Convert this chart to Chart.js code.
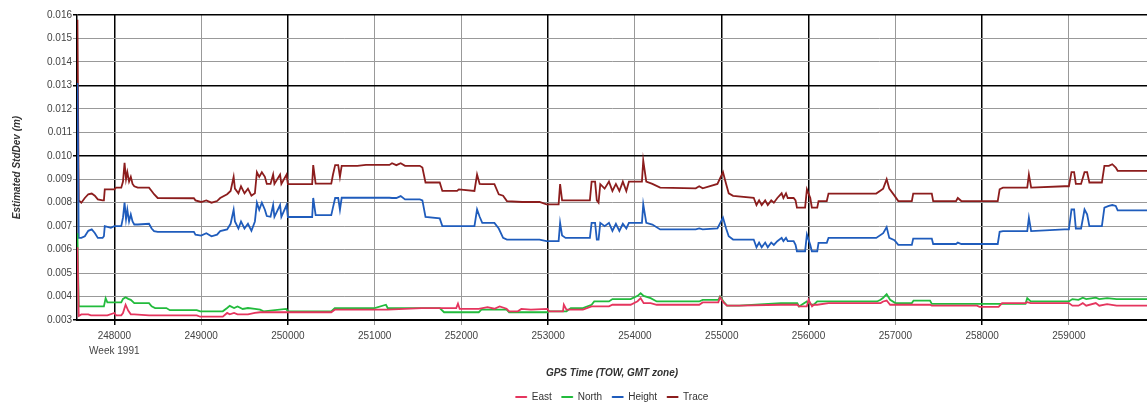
<!DOCTYPE html>
<html>
<head>
<meta charset="utf-8">
<script src="https://cdn.jsdelivr.net/npm/chart.js@4.4.0/dist/chart.umd.min.js"></script>
<style>
  html, body { margin: 0; padding: 0; background: #fff; }
  #wrap { width: 1147px; height: 406px; }
</style>
</head>
<body>
<div id="wrap"><canvas id="stdChart" width="1147" height="406"></canvas></div>
<script>
// tick labels
const xTicks = [248000, 249000, 250000, 251000, 252000, 253000, 254000, 255000, 256000, 257000, 258000, 259000];
const yTicks = [0.003, 0.004, 0.005, 0.006, 0.007, 0.008, 0.009, 0.010, 0.011, 0.012, 0.013, 0.014, 0.015, 0.016];

// GPS time of week (s) for Height / Trace
const tHi = [247575, 247590, 247620, 247660, 247700, 247740, 247775, 247810, 247865, 247880,
  247890, 247960, 248000, 248020, 248080, 248100, 248118, 248135, 248150, 248170,
  248190, 248210, 248230, 248270, 248400, 248430, 248458, 248500, 248917, 248935,
  249000, 249060, 249120, 249184, 249220, 249300, 249340, 249375, 249390, 249430,
  249460, 249500, 249540, 249580, 249620, 249643, 249670, 249700, 249735, 249757,
  249800, 249830, 249845, 249910, 249925, 249985, 250000, 250280, 250292, 250320,
  250500, 250520, 250545, 250580, 250600, 250620, 250800, 250900, 251170, 251200,
  251250, 251300, 251350, 251520, 251550, 251586, 251750, 251780, 251950, 251970,
  252150, 252180, 252210, 252240, 252380, 252430, 252480, 252524, 252700, 252900,
  252980, 253120, 253137, 253160, 253200, 253480, 253500, 253540, 253560, 253580,
  253600, 253650, 253700, 253740, 253780, 253820, 253860, 253900, 253930, 254080,
  254095, 254130, 254200, 254290, 254700, 254740, 254780, 254950, 255014, 255050,
  255080, 255130, 255368, 255400, 255430, 255460, 255500, 255530, 255570, 255600,
  255640, 255690, 255710, 255740, 255760, 255828, 255850, 255866, 255960, 255981,
  256020, 256038, 256100, 256115, 256210, 256230, 256780, 256860, 256900, 256930,
  256990, 257034, 257190, 257206, 257420, 257436, 257700, 257720, 257760, 258180,
  258202, 258240, 258520, 258539, 258565, 258950, 259000, 259030, 259060, 259080,
  259140, 259180, 259210, 259236, 259380, 259409, 259460, 259500, 259540, 259562,
  259900];

const trace = [0.0158, 0.0081, 0.0080, 0.0082, 0.00836, 0.00839, 0.0083, 0.00814, 0.0081, 0.0081,
  0.00857, 0.00857, 0.00857, 0.00864, 0.00864, 0.0089, 0.0097, 0.0090, 0.0093, 0.0089,
  0.0091, 0.0088, 0.0087, 0.00864, 0.00864, 0.0085, 0.00836, 0.0082, 0.00819, 0.0081,
  0.00803, 0.0081, 0.0080, 0.00807, 0.0082, 0.00836, 0.0085, 0.0091, 0.0086, 0.0084,
  0.0087, 0.0084, 0.0086, 0.0083, 0.0084, 0.0093, 0.0091, 0.0093, 0.0091, 0.0088,
  0.0088, 0.0092, 0.0088, 0.0092, 0.0088, 0.0092, 0.00879, 0.00879, 0.0096, 0.00881,
  0.00881, 0.0092, 0.0096, 0.0096, 0.0091, 0.00957, 0.00957, 0.00961, 0.00961, 0.00968,
  0.0096, 0.00968, 0.00957, 0.00957, 0.0095, 0.00886, 0.00886, 0.0085, 0.0085, 0.00857,
  0.0085, 0.0092, 0.0088, 0.00879, 0.00879, 0.00836, 0.0083, 0.00807, 0.00803, 0.00803,
  0.00793, 0.00793, 0.00879, 0.0081, 0.0081, 0.0081, 0.0089, 0.0089, 0.0081, 0.0080,
  0.00879, 0.0086, 0.0089, 0.0085, 0.0088, 0.0085, 0.0089, 0.0085, 0.0089, 0.0089,
  0.0098, 0.0089, 0.0088, 0.00864, 0.00861, 0.0087, 0.00861, 0.0088, 0.0093, 0.0088,
  0.0084, 0.00829, 0.00821, 0.0079, 0.0081, 0.0079, 0.0081, 0.0079, 0.0081, 0.0080,
  0.0082, 0.0084, 0.0082, 0.0084, 0.0082, 0.0082, 0.0081, 0.00779, 0.00779, 0.00857,
  0.0082, 0.00779, 0.00779, 0.00807, 0.00807, 0.00839, 0.00839, 0.0086, 0.0090, 0.0086,
  0.0083, 0.00807, 0.00807, 0.00839, 0.00839, 0.00807, 0.00807, 0.0082, 0.00807, 0.00807,
  0.00857, 0.00864, 0.00864, 0.0092, 0.00864, 0.0087, 0.0087, 0.0093, 0.0093, 0.0088,
  0.0088, 0.0093, 0.0093, 0.00886, 0.00886, 0.00957, 0.00957, 0.00964, 0.0095, 0.00936,
  0.00936];

const height = [0.0131, 0.0065, 0.0065, 0.00657, 0.0068, 0.00686, 0.00671, 0.0065, 0.0065, 0.00657,
  0.0070, 0.00693, 0.0070, 0.0070, 0.0070, 0.00736, 0.0080, 0.0073, 0.0077, 0.0072,
  0.0075, 0.0072, 0.00707, 0.00707, 0.0071, 0.0069, 0.00679, 0.00676, 0.00676, 0.00664,
  0.0066, 0.0067, 0.00657, 0.00664, 0.00679, 0.00686, 0.0071, 0.0077, 0.0072, 0.0069,
  0.0072, 0.0069, 0.0071, 0.0068, 0.0072, 0.0080, 0.0077, 0.0080, 0.0077, 0.00743,
  0.0074, 0.0079, 0.0074, 0.0079, 0.0074, 0.0079, 0.00739, 0.00739, 0.0082, 0.00747,
  0.00747, 0.0078, 0.0082, 0.0082, 0.0077, 0.00821, 0.00821, 0.00821, 0.00821, 0.0082,
  0.0082, 0.00828, 0.00814, 0.00814, 0.0081, 0.00739, 0.00733, 0.0070, 0.0070, 0.0070,
  0.0070, 0.00771, 0.0074, 0.00714, 0.00714, 0.0069, 0.0065, 0.00643, 0.00643, 0.00643,
  0.00636, 0.00636, 0.00714, 0.0066, 0.0065, 0.0065, 0.00714, 0.00714, 0.00643, 0.00643,
  0.00714, 0.0070, 0.00714, 0.0068, 0.0071, 0.0068, 0.0071, 0.0069, 0.00714, 0.00714,
  0.00793, 0.00714, 0.00707, 0.00686, 0.00686, 0.0069, 0.00686, 0.0069, 0.00736, 0.0069,
  0.00657, 0.00643, 0.00643, 0.0061, 0.0063, 0.0061, 0.0063, 0.0061, 0.0063, 0.0062,
  0.00636, 0.0065, 0.00636, 0.0065, 0.00636, 0.00636, 0.0062, 0.00593, 0.00593, 0.00664,
  0.0062, 0.00593, 0.00593, 0.00629, 0.00629, 0.0065, 0.0065, 0.0067, 0.00696, 0.0065,
  0.0064, 0.0062, 0.0062, 0.00647, 0.00647, 0.00624, 0.00624, 0.0063, 0.00624, 0.00624,
  0.00676, 0.00679, 0.00679, 0.00736, 0.00679, 0.00686, 0.00686, 0.00771, 0.00771, 0.0069,
  0.0069, 0.00771, 0.0075, 0.0070, 0.0070, 0.00779, 0.00786, 0.0079, 0.00786, 0.00767,
  0.00767];

// GPS time of week (s) for East / North
const tLo = [247575, 247590, 247620, 247700, 247730, 247880, 247900, 247920, 248000, 248020,
  248080, 248100, 248130, 248160, 248190, 248230, 248400, 248430, 248470, 248600,
  248640, 248950, 248990, 249250, 249300, 249330, 249380, 249420, 249480, 249540,
  249620, 249680, 249720, 249980, 250000, 250500, 250540, 251000, 251130, 251150,
  251540, 251750, 251800, 251940, 251960, 251980, 252200, 252230, 252300, 252380,
  252440, 252520, 252550, 252650, 252690, 252800, 252990, 253010, 253170, 253180,
  253210, 253260, 253400, 253500, 253530, 253700, 253740, 253950, 254030, 254065,
  254100, 254180, 254250, 254740, 254780, 254960, 254980, 255020, 255060, 255200,
  255680, 255870, 255890, 255980, 256000, 256040, 256060, 256100, 256230, 256790,
  256830, 256860, 256900, 256940, 257000, 257190, 257210, 257400, 257420, 257940,
  257970, 258190, 258230, 258500, 258520, 258560, 259000, 259040, 259110, 259160,
  259200, 259310, 259350, 259440, 259550, 259900];

const east = [0.0061, 0.00317, 0.00324, 0.00324, 0.0032, 0.0032, 0.0032, 0.0032, 0.0033, 0.0032,
  0.0032, 0.0033, 0.00365, 0.0034, 0.00324, 0.00324, 0.0032, 0.0032, 0.0032, 0.0032,
  0.0032, 0.0032, 0.00314, 0.00314, 0.0033, 0.00324, 0.0033, 0.00324, 0.00324, 0.00324,
  0.0033, 0.00333, 0.00333, 0.00333, 0.00333, 0.00333, 0.00344, 0.00344, 0.00344, 0.00344,
  0.00351, 0.00351, 0.00351, 0.00351, 0.0037, 0.00347, 0.00347, 0.0035, 0.00355, 0.00348,
  0.00358, 0.00348, 0.00337, 0.00337, 0.00347, 0.00344, 0.00347, 0.00337, 0.00337, 0.00365,
  0.00344, 0.00344, 0.00344, 0.00358, 0.00358, 0.00358, 0.00365, 0.00365, 0.0038, 0.00393,
  0.00372, 0.00372, 0.00365, 0.00365, 0.00375, 0.00375, 0.00397, 0.00375, 0.00361, 0.00361,
  0.00365, 0.00365, 0.00358, 0.00358, 0.00386, 0.00358, 0.00365, 0.00365, 0.00372, 0.00372,
  0.00372, 0.00379, 0.00383, 0.00365, 0.00365, 0.00365, 0.00365, 0.00365, 0.00361, 0.00361,
  0.00356, 0.00356, 0.00372, 0.00372, 0.00376, 0.00372, 0.00372, 0.00361, 0.00361, 0.00372,
  0.00361, 0.00372, 0.00361, 0.00368, 0.00361, 0.00361];

const north = [0.0067, 0.00358, 0.00358, 0.00358, 0.00358, 0.00358, 0.00393, 0.00375, 0.00375, 0.00375,
  0.00375, 0.0039, 0.00397, 0.0039, 0.00386, 0.00372, 0.00372, 0.00358, 0.00351, 0.00351,
  0.00342, 0.00342, 0.00337, 0.00337, 0.00351, 0.0036, 0.00351, 0.00358, 0.00347, 0.00351,
  0.00347, 0.00344, 0.00337, 0.00347, 0.00337, 0.00337, 0.00351, 0.00351, 0.00365, 0.00351,
  0.00351, 0.00351, 0.00333, 0.00333, 0.00333, 0.00333, 0.00333, 0.00344, 0.00344, 0.00344,
  0.00344, 0.00344, 0.00333, 0.00333, 0.00333, 0.00333, 0.00333, 0.00337, 0.00337, 0.00337,
  0.00337, 0.00351, 0.00351, 0.00365, 0.00379, 0.00379, 0.00389, 0.00389, 0.00403, 0.00414,
  0.00403, 0.00393, 0.00379, 0.00379, 0.00386, 0.00386, 0.004, 0.00379, 0.00361, 0.00361,
  0.00372, 0.00372, 0.00358, 0.00379, 0.00372, 0.00365, 0.00365, 0.00379, 0.00379, 0.00379,
  0.00386, 0.00395, 0.0041, 0.00386, 0.00372, 0.00372, 0.00383, 0.00383, 0.00369, 0.00369,
  0.00369, 0.00369, 0.00369, 0.00369, 0.00393, 0.00379, 0.00379, 0.00389, 0.00386, 0.00395,
  0.00389, 0.00395, 0.00389, 0.00393, 0.00389, 0.00389];

const darkX = [248000, 250000, 253000, 255000, 256000, 258000];
const darkY = [3, 10, 13, 16];

function pts(t, v) {
  return t.map((x, i) => ({ x: x, y: v[i] }));
}

function series(label, color, t, v) {
  return {
    label: label,
    data: pts(t, v),
    borderColor: color,
    backgroundColor: color,
    borderWidth: 1.8,
    pointRadius: 0,
    tension: 0
  };
}

const font = 'Liberation Sans';

const ctx = document.getElementById('stdChart').getContext('2d');
const stdChart = new Chart(ctx, {
  type: 'line',
  data: {
    datasets: [
      series('East', '#e5355e', tLo, east),
      series('North', '#22bb3c', tLo, north),
      series('Height', '#1f5cbc', tHi, height),
      series('Trace', '#8c1d1d', tHi, trace)
    ]
  },
  options: {
    responsive: false,
    animation: false,
    layout: { padding: { left: 0, right: 0, top: 15, bottom: -6 } },
    plugins: {
      tooltip: { enabled: false },
      legend: {
        position: 'bottom',
        fullSize: false,
        labels: {
          boxWidth: 11,
          boxHeight: 1,
          padding: 10,
          color: '#333',
          font: { family: font, size: 10 },
          generateLabels: chart => Chart.defaults.plugins.legend.labels.generateLabels(chart)
            .map(l => Object.assign(l, { lineWidth: 1 }))
        }
      }
    },
    scales: {
      x: {
        type: 'linear',
        min: 247570,
        max: 259900,
        afterBuildTicks: s => { s.ticks = xTicks.map(v => ({ value: v })); },
        afterFit: s => { s.height = 62; },
        ticks: {
          color: '#444',
          font: { family: font, size: 10, lineHeight: 1.5 },
          padding: 4,
          maxRotation: 0,
          autoSkip: false,
          callback: (v, i) => i === 0 ? [String(v), 'Week 1991'] : String(v)
        },
        grid: {
          color: c => c.tick && darkX.includes(c.tick.value) ? '#000' : '#999',
          lineWidth: c => c.tick && darkX.includes(c.tick.value) ? 1.5 : 1,
          tickLength: 5
        },
        border: { color: '#000', width: 2 },
        title: {
          display: true,
          text: 'GPS Time (TOW, GMT zone)',
          color: '#333',
          font: { family: font, size: 10, style: 'italic', weight: 'bold' },
          padding: { top: 0, bottom: 3 }
        }
      },
      y: {
        min: 0.003,
        max: 0.016,
        afterBuildTicks: s => { s.ticks = yTicks.map(v => ({ value: v })); },
        afterFit: s => { s.width = 77; },
        ticks: {
          color: '#444',
          font: { family: font, size: 10 },
          padding: 1,
          callback: v => v.toFixed(3)
        },
        grid: {
          color: c => c.tick && darkY.includes(Math.round(c.tick.value * 1000)) ? '#000' : '#999',
          lineWidth: c => c.tick && darkY.includes(Math.round(c.tick.value * 1000)) ? 1.5 : 1,
          tickLength: 4
        },
        border: { color: '#000', width: 1.5 },
        title: {
          display: true,
          text: 'Estimated StdDev (m)',
          color: '#333',
          font: { family: font, size: 10, style: 'italic', weight: 'bold' },
          padding: { top: 11, bottom: 0 }
        }
      }
    }
  }
});
</script>
</body>
</html>
